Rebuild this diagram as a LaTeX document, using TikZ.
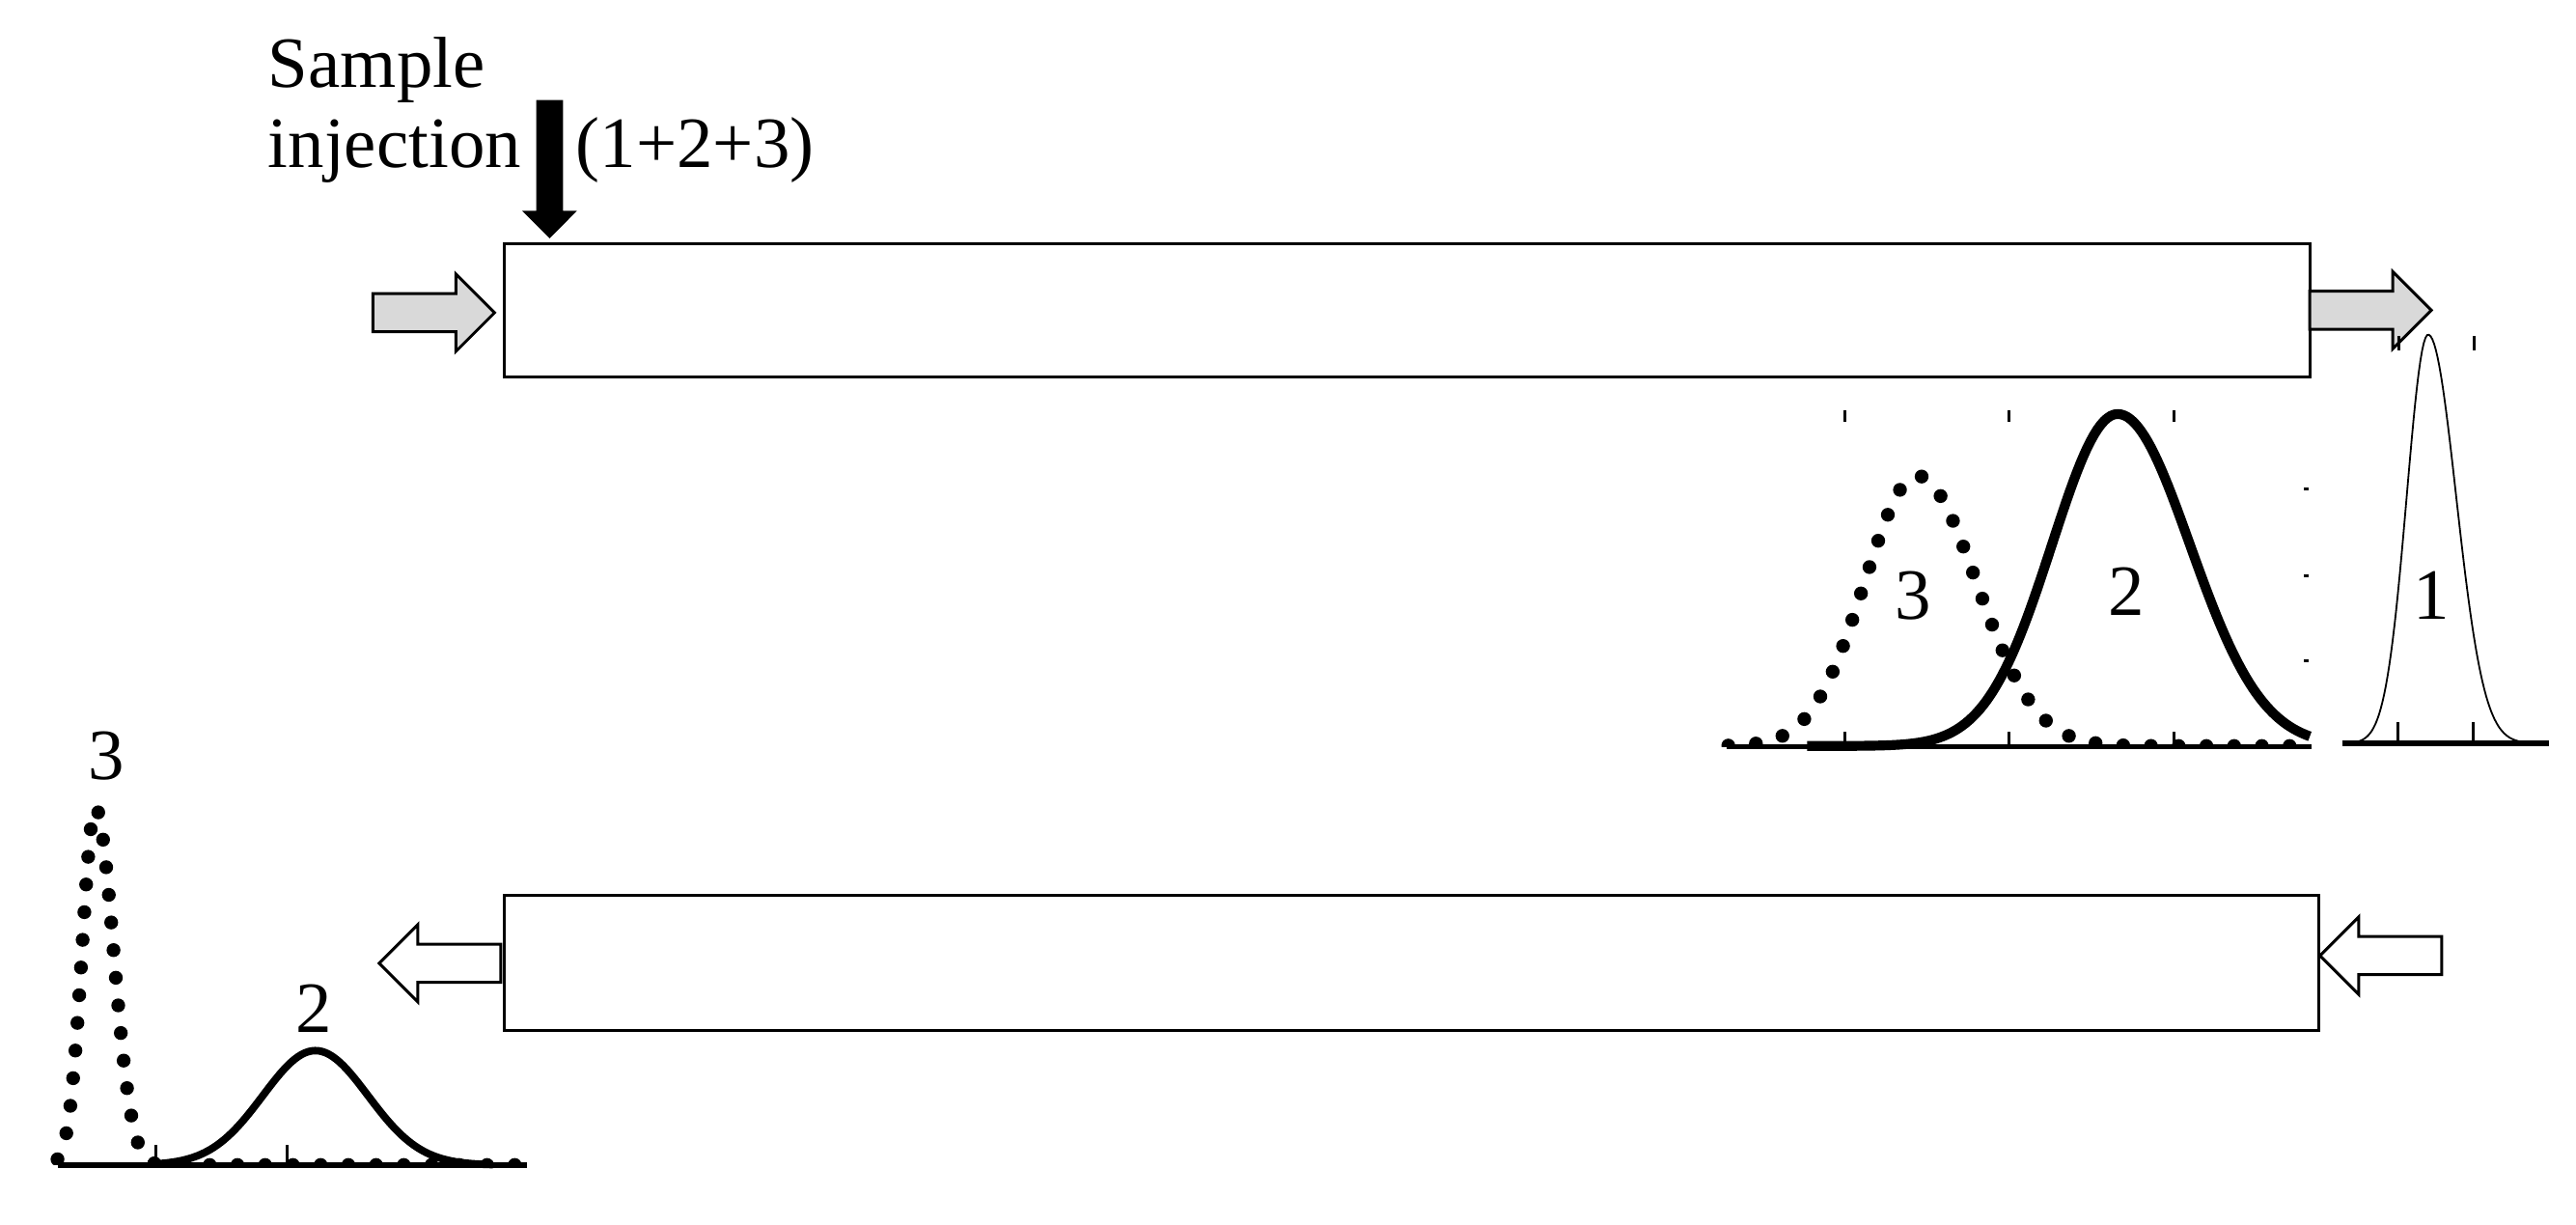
\documentclass[tikz,border=0pt]{standalone}
\usepackage{fontspec}
\setmainfont{Liberation Serif}
\usetikzlibrary{calc}
\tikzset{
  declare function = {gsq(\ue) = exp(-0.5*\ue*\ue);
    gpk(\ua,\ub,\uc,\ud) = gsq((\ua-\ub)/ifthenelse(\ua<\ub,\uc,\ud));},
  flow/.pic = {\draw[pic actions] (0,0) -- (-23.5,-23.5) -- (-23.5,-11.6) -- (-74,-11.6)
    -- (-74,11.6) -- (-23.5,11.6) -- (-23.5,23.5) -- cycle;},
  column/.style = {draw, line width = 0.5pt, inner sep = 0pt},
  lbl/.style = {inner sep = 0pt, font = \fontsize{12.5}{15}\selectfont},
  axis/.style = {line width = 0.9pt},
  tick/.style = {line width = 0.5pt},
  comp1/.style = {line width = 0.3pt},
  comp2/.style = {line width = 1.7pt, line join = round},
  comp3/.style = {line width = 2.4pt, line cap = round, dash pattern = on 0pt off 4.8pt}
}

\begin{document}
\begin{tikzpicture} [x = 0.01cm, y = -0.01cm]
\useasboundingbox (0,0) rectangle (1568,745);
\node (c1) [column, minimum width = 10.983cm, minimum height = 0.811cm] at (856.6,188.8) {};
\node (c2) [column, minimum width = 11.04cm, minimum height = 0.82cm] at (859,586.2) {};
\node (smp) [lbl, anchor = base west] at (162.6,52.9) {Sample};
\node (inj) [lbl, anchor = base west] at ($(smp.base west)+(0,48.9)$) {injection};
\node (mix) [lbl, anchor = base west] at ($(inj.base west)+(187.4,0)$) {(1+2+3)};
\coordinate (inlet) at ($(c1.north west)+(28.3,-2.3)$);
\fill (inlet) -- ++(-16.6,-16.7) -- ++(8.4,0) -- ++(0,-67.5) -- ++(16.4,0) -- ++(0,67.5) -- ++(8.4,0) -- cycle;
\pic [fill = black!15, line width = 0.5pt] at ($(c1.west)+(-5.2,1.5)$) {flow};
\pic [fill = black!15, line width = 0.5pt] at ($(c1.east)+(73,0)$) {flow};
\pic [fill = white, line width = 0.5pt, rotate = 180] at ($(c2.east)+(0,-4.6)$) {flow};
\pic [fill = white, line width = 0.5pt, rotate = 180] at ($(c2.west)+(-75,0)$) {flow};

\begin{scope}
\clip (1040,200) rectangle (1420,454.3);
\draw[comp3] plot[domain = 1052:1406, samples = 150] (\x, {454 - 164.5*gpk(\x,1167,32,36)});
\end{scope}
\draw[comp2] plot[domain = 1100:1406, samples = 150] (\x, {454 - 202*gpk(\x,1289,40,44)});
\draw[comp1] plot[domain = 1426:1551, samples = 120] (\x, {452.4 - 248.7*gpk(\x,1478,13,17)});
\draw[axis] (1051,454.3) -- (1406.9,454.3);
\draw[axis] (1425.6,452.4) -- (1551.6,452.4);
\draw[tick] (1123.2,454.3) -- ++(0,-9) (1223,454.3) -- ++(0,-9) (1323.5,454.3) -- ++(0,-9);
\draw[tick] (1123.2,249.7) -- ++(0,6.8) (1223,249.7) -- ++(0,6.8) (1323.5,249.7) -- ++(0,6.8);
\draw[tick] (1402.5,297.7) -- ++(2.8,0) (1402.5,350.5) -- ++(2.8,0) (1402.5,402.4) -- ++(2.8,0);
\draw[tick] (1459.7,452.4) -- ++(0,-12.7) (1505.7,452.4) -- ++(0,-12.7);
\draw[tick] (1460,204.6) -- ++(0,8.8) (1506,204.6) -- ++(0,8.8);
\node (p3) [lbl] at (1164.4,362.3) {3};
\node (p2) [lbl] at (1294.5,360) {2};
\node (p1) [lbl] at (1480,362.3) {1};

\begin{scope}
\clip (25,480) rectangle (330,709);
\draw[comp3] plot[domain = 35:320, samples = 220] (\x, {709 - 217.5*gpk(\x,58,8,11)});
\end{scope}
\draw[comp2, line width = 1.3pt] plot[domain = 90:300, samples = 100] (\x, {709 - 69.6*gpk(\x,192,32,32)});
\draw[axis] (35,709) -- (320.6,709);
\draw[tick] (94.9,709) -- ++(0,-12) (174.9,709) -- ++(0,-12);
\node (q3) [lbl] at (64.5,460.2) {3};
\node (q2) [lbl] at (191.1,614) {2};
\end{tikzpicture}
\end{document}
